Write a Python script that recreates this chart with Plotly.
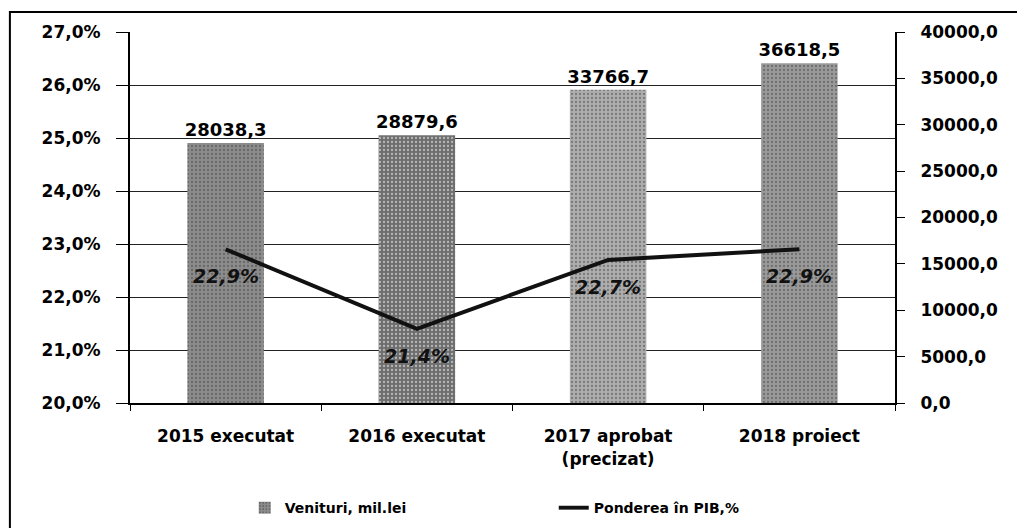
import plotly.graph_objects as go

categories = ["2015 executat", "2016 executat", "2017 aprobat<br>(precizat)", "2018 proiect"]
venituri = [28038.3, 28879.6, 33766.7, 36618.5]
pondere = [0.229, 0.214, 0.227, 0.229]
bar_colors = ["#8c8c8c", "#6e6e6e", "#adadad", "#999999"]

font_main = "DejaVu Sans"

fig = go.Figure()

fig.add_trace(go.Bar(
    x=categories, y=venituri, name="Venituri, mil.lei",
    marker=dict(color=bar_colors, line=dict(width=0),
                pattern=dict(shape=".", fgcolor="#3a3a3a", size=4, solidity=0.25)),
    width=0.4,
    text=[f"{v:.1f}".replace(".", ",") for v in venituri],
    textposition="outside", cliponaxis=False, constraintext="none",
    textfont=dict(family=font_main, size=18, color="black", weight="bold"),
    yaxis="y",
))

fig.add_trace(go.Scatter(
    x=categories, y=pondere, name="Ponderea în PIB,%",
    mode="lines", line=dict(color="#111111", width=4),
    yaxis="y2",
))

# labels under the line points
for c, p in zip(categories, pondere):
    fig.add_annotation(
        x=c, y=p, xref="x", yref="y2", yshift=-27, showarrow=False,
        text=f"<i>{p*100:.1f}%</i>".replace(".", ","),
        font=dict(family=font_main, size=19, color="#111111", weight="bold"),
    )

fig.update_layout(
    width=1025, height=528,
    margin=dict(l=122, r=138, t=24, b=131),
    paper_bgcolor="white", plot_bgcolor="white",
    separators=",.",
    bargap=0.6,
    font=dict(family=font_main, size=17, color="black", weight="bold"),
    xaxis=dict(
        showline=True, linecolor="black", linewidth=2,
        ticks="outside", tickson="boundaries", ticklen=6, tickcolor="black",
        tickfont=dict(size=17, weight="bold"), ticklabelstandoff=17,
        showgrid=False,
    ),
    yaxis=dict(
        side="right", range=[0, 40000], dtick=5000, tickformat=".1f",
        showline=True, linecolor="black", linewidth=2,
        ticks="outside", ticklen=8, tickcolor="black",
        showgrid=False, zeroline=False,
        tickfont=dict(size=17, weight="bold"), ticklabelstandoff=12,
    ),
    yaxis2=dict(
        side="left", overlaying="y", range=[0.20, 0.27], dtick=0.01, tickformat=".1%",
        showline=True, linecolor="black", linewidth=2,
        ticks="outside", ticklen=12, tickcolor="black",
        showgrid=True, gridcolor="#222222", gridwidth=1, zeroline=False,
        tickfont=dict(size=17, weight="bold"), ticklabelstandoff=12,
    ),
    legend=dict(
        orientation="h", x=0.15, xanchor="left", y=-0.24, yanchor="top",
        entrywidth=264, entrywidthmode="pixels",
        font=dict(size=14, weight="bold"), bgcolor="rgba(0,0,0,0)",
    ),
    showlegend=True,
)

# outer frame of the chart
fig.add_shape(type="rect", xref="paper", yref="paper",
              x0=-0.157, x1=1.3, y0=-0.5, y1=1.054,
              line=dict(color="black", width=2), layer="below")

fig.write_html("out.html")
